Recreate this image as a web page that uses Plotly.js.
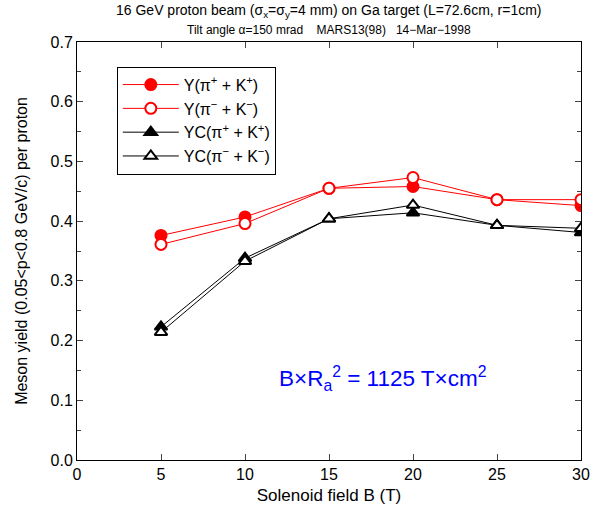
<!DOCTYPE html>
<html><head><meta charset="utf-8">
<script src="https://cdn.plot.ly/plotly-3.0.1.min.js"></script>
<style>body{margin:0;padding:0;background:#fff}#plot{width:597px;height:512px}</style>
</head><body><div id="plot"></div>
<script>
const field = [5, 10, 15, 20, 25, 30];
const yPlus = [0.376, 0.407, 0.455, 0.458, 0.436, 0.426];
const yMinus = [0.361, 0.396, 0.455, 0.473, 0.436, 0.436];
const ycPlus = [0.223, 0.338, 0.404, 0.414, 0.393, 0.381];
const ycMinus = [0.214, 0.333, 0.404, 0.427, 0.393, 0.388];
const names = ['Y(π<sup>+</sup> + K<sup>+</sup>)', 'Y(π<sup>−</sup> + K<sup>−</sup>)',
               'YC(π<sup>+</sup> + K<sup>+</sup>)', 'YC(π<sup>−</sup> + K<sup>−</sup>)'];

const red = '#ff0000';
function tr(y, name, color, symbol, fill) {
  return {x: field, y: y, name: name, type: 'scatter', mode: 'lines+markers',
    line: {color: color, width: 1},
    marker: {symbol: symbol, size: 11, color: fill ? color : '#ffffff', line: {color: color, width: 2}}};
}
const data = [
  tr(yPlus, names[0], red, 'circle', true),
  tr(yMinus, names[1], red, 'circle', false),
  tr(ycPlus, names[2], '#000000', 'triangle-up', true),
  tr(ycMinus, names[3], '#000000', 'triangle-up', false)
];
const font = {family: 'Liberation Sans, Arial, sans-serif', color: '#000'};
const layout = {
  width: 597, height: 512,
  margin: {l: 77, r: 16, t: 42, b: 52},
  paper_bgcolor: '#fff', plot_bgcolor: '#fff',
  font: font,
  showlegend: true,
  legend: {x: 0.079, y: 0.941, xanchor: 'left', yanchor: 'top', bordercolor: '#000', borderwidth: 1,
    bgcolor: '#fff', font: {family: font.family, size: 16, color: '#000'}, itemwidth: 56, tracegroupgap: 0},
  xaxis: {range: [0, 30], dtick: 5, ticks: 'inside', ticklen: 6, showline: true, linecolor: '#000', linewidth: 1,
    mirror: 'allticks', showgrid: false, zeroline: false, tickfont: {size: 16},
    title: {text: 'Solenoid field B (T)', font: {size: 17}, standoff: 6}},
  yaxis: {range: [0, 0.7], dtick: 0.1, tickformat: '.1f', ticks: 'inside', ticklen: 6, showline: true, linecolor: '#000', linewidth: 1,
    mirror: 'allticks', showgrid: false, zeroline: false, tickfont: {size: 16},
    minor: {dtick: 0.05, ticks: 'inside', ticklen: 4, showgrid: false},
    title: {text: 'Meson yield (0.05<p<0.8 GeV/c) per proton', font: {size: 16}, standoff: 18}},
  annotations: [
    {xref: 'paper', yref: 'paper', x: 0.5, y: 1, yanchor: 'bottom', xanchor: 'center', yshift: 20, showarrow: false,
      text: '16 GeV proton beam (σ<sub>x</sub>=σ<sub>y</sub>=4 mm) on Ga target (L=72.6cm, r=1cm)', font: {size: 14}},
    {xref: 'paper', yref: 'paper', x: 0.5, y: 1, yanchor: 'bottom', xanchor: 'center', yshift: 3, showarrow: false,
      text: 'Tilt angle α=150 mrad    MARS13(98)   14−Mar−1998', font: {size: 12}},
    {xref: 'x', yref: 'y', x: 18.2, y: 0.137, showarrow: false,
      text: 'B×R<sub>a</sub><sup>2</sup> = 1125 T×cm<sup>2</sup>', font: {size: 22.5, color: '#0000ff'}}
  ]
};
Plotly.newPlot('plot', data, layout, {displayModeBar: false});
</script></body></html>
